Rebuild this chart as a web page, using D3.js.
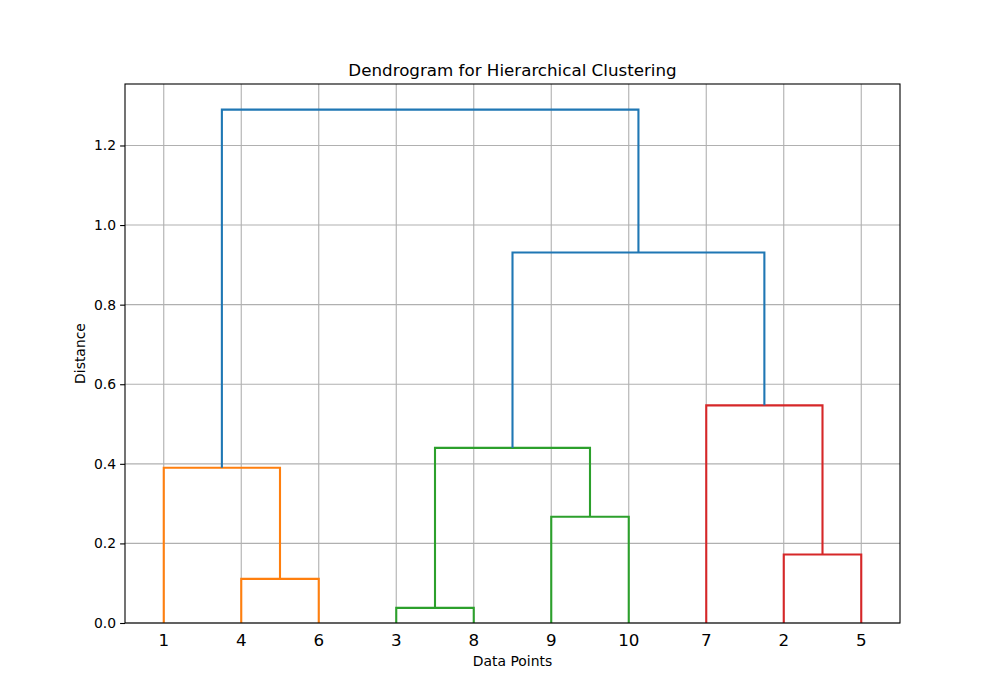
<!DOCTYPE html>
<html>
<head>
<meta charset="utf-8">
<script src="https://cdn.jsdelivr.net/npm/d3@7"></script>
<style>
  body { margin: 0; background: #fff; }
  svg { display: block; font-family: "DejaVu Sans", sans-serif; }
</style>
</head>
<body>
<div id="chart"></div>
<script>
// leaves in original point order (labels shown under the axis)
const leafLabels = ['1', '2', '3', '4', '5', '6', '7', '8', '9', '10'];

// merges: [left, right, distance]; ids are leaf labels or 'm' + merge index
const merges = [
  ['4', '6', 0.111],     // m0
  ['3', '8', 0.038],     // m1
  ['2', '5', 0.172],     // m2
  ['9', '10', 0.267],    // m3
  ['1', 'm0', 0.390],    // m4
  ['m1', 'm3', 0.440],   // m5
  ['7', 'm2', 0.547],    // m6
  ['m5', 'm6', 0.931],   // m7
  ['m4', 'm7', 1.290]    // m8
];

const yTicks = [0, 0.2, 0.4, 0.6, 0.8, 1.0, 1.2];
const clusterColors = ['#ff7f0e', '#2ca02c', '#d62728', '#9467bd', '#8c564b'];
const aboveColor = '#1f77b4';

const W = 1000, H = 700;
const margin = { top: 84, right: 100, bottom: 77, left: 125 };
const innerW = W - margin.left - margin.right;
const innerH = H - margin.top - margin.bottom;

const svg = d3.select('#chart').append('svg')
  .attr('width', W)
  .attr('height', H);

const g = svg.append('g')
  .attr('transform', `translate(${margin.left},${margin.top})`);

// build tree nodes
const nodes = new Map();
leafLabels.forEach(l => nodes.set(l, { id: l, leaf: true, h: 0 }));
merges.forEach((m, i) => {
  nodes.set('m' + i, { id: 'm' + i, leaf: false, left: nodes.get(m[0]), right: nodes.get(m[1]), h: m[2] });
});
const root = nodes.get('m' + (merges.length - 1));

// leaf order from left-first traversal
const order = [];
(function walk(n) {
  if (n.leaf) { order.push(n.id); return; }
  walk(n.left); walk(n.right);
})(root);

const maxH = d3.max(merges, m => m[2]);
const threshold = 0.7 * maxH;

const x = d3.scaleLinear().domain([0, order.length * 10]).range([0, innerW]);
const y = d3.scaleLinear().domain([0, maxH * 1.05]).range([innerH, 0]);

// x position of every node
(function place(n) {
  if (n.leaf) { n.pos = order.indexOf(n.id) * 10 + 5; return; }
  place(n.left); place(n.right);
  n.pos = (n.left.pos + n.right.pos) / 2;
})(root);

// colour clusters under threshold
let ci = 0;
(function paint(n, color) {
  if (n.leaf) return;
  if (!color && n.h < threshold) color = clusterColors[ci++ % clusterColors.length];
  n.color = color || aboveColor;
  paint(n.left, color); paint(n.right, color);
})(root, null);

// grid
g.append('g').selectAll('line.vg')
  .data(order.map((d, i) => i * 10 + 5))
  .join('line')
  .attr('x1', d => x(d)).attr('x2', d => x(d))
  .attr('y1', 0).attr('y2', innerH)
  .attr('stroke', '#b0b0b0').attr('stroke-width', 1.1);

g.append('g').selectAll('line.hg')
  .data(yTicks)
  .join('line')
  .attr('x1', 0).attr('x2', innerW)
  .attr('y1', d => y(d)).attr('y2', d => y(d))
  .attr('stroke', '#b0b0b0').attr('stroke-width', 1.1);

// links
const links = merges.map((m, i) => nodes.get('m' + i));
g.append('g').selectAll('path')
  .data(links)
  .join('path')
  .attr('fill', 'none')
  .attr('stroke', d => d.color)
  .attr('stroke-width', 2.1)
  .attr('stroke-linejoin', 'miter')
  .attr('d', d => `M${x(d.left.pos)},${y(d.left.h)}V${y(d.h)}H${x(d.right.pos)}V${y(d.right.h)}`);

// axes
const yAxis = g.append('g')
  .call(d3.axisLeft(y).tickValues(yTicks).tickFormat(d3.format('.1f')).tickSize(4.9).tickPadding(4).tickSizeOuter(0));
yAxis.select('.domain').remove();
yAxis.selectAll('line').attr('stroke', '#000').attr('stroke-width', 1.1);
yAxis.selectAll('text').attr('font-size', 13.9).attr('fill', '#000').attr('font-family', 'DejaVu Sans');

g.append('g').selectAll('text.leaf')
  .data(order)
  .join('text')
  .attr('x', (d, i) => x(i * 10 + 5))
  .attr('y', innerH + 23)
  .attr('text-anchor', 'middle')
  .attr('font-size', 16.7)
  .attr('fill', '#000')
  .text(d => d);

// frame
g.append('rect')
  .attr('width', innerW).attr('height', innerH)
  .attr('fill', 'none').attr('stroke', '#000').attr('stroke-width', 1.1);

// labels
svg.append('text')
  .attr('x', margin.left + innerW / 2)
  .attr('y', 76)
  .attr('text-anchor', 'middle')
  .attr('font-size', 16.7)
  .text('Dendrogram for Hierarchical Clustering');

svg.append('text')
  .attr('x', margin.left + innerW / 2)
  .attr('y', 666)
  .attr('text-anchor', 'middle')
  .attr('font-size', 13.9)
  .text('Data Points');

svg.append('text')
  .attr('transform', `translate(85,${margin.top + innerH / 2}) rotate(-90)`)
  .attr('text-anchor', 'middle')
  .attr('font-size', 13.9)
  .text('Distance');
</script>
</body>
</html>
